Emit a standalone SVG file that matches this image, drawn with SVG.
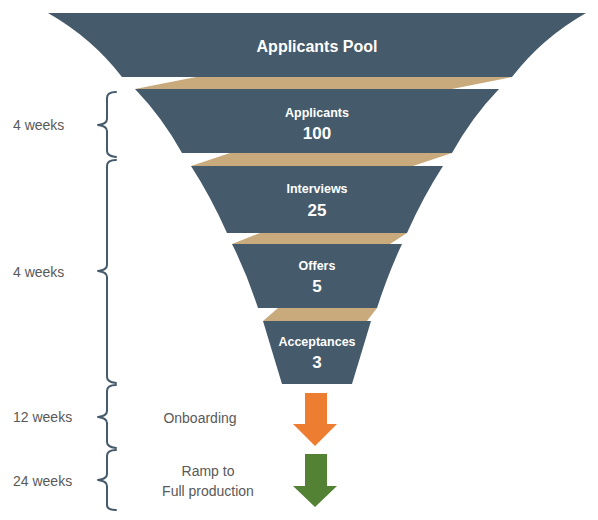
<svg xmlns="http://www.w3.org/2000/svg" width="598" height="520" viewBox="0 0 598 520">
<style>
.stage{fill:#455a6a}
.band{fill:#c9aa7c}
.t{font-family:"Liberation Sans",Arial,sans-serif;fill:#ffffff;font-weight:bold;text-anchor:middle}
.lbl{font-family:"Liberation Sans",Arial,sans-serif;fill:#595959;font-size:14px}
.mid{text-anchor:middle}
.brace{fill:none;stroke:#455a6a;stroke-width:2;stroke-linecap:round;stroke-linejoin:round}
</style>
<rect width="598" height="520" fill="#ffffff"/>
<g id="bands">
<polygon class="band" points="196,77 512,77 452,89 135,89"/>
<polygon class="band" points="230,153 452,153 413,166 191,166"/>
<polygon class="band" points="260,233 407,233 390,244 232,244"/>
<polygon class="band" points="278,308 377,308 367,321 263,321"/>
</g>
<g id="pool">
<path class="stage" d="M48,13 L586,13 Q542,38 512,77 L122,77 Q92,38 48,13 Z"/>
<text class="t" x="317" y="52" font-size="16">Applicants Pool</text>
</g>
<g id="applicants">
<path class="stage" d="M135,89 L499,89 Q472,117 452,153 L182,153 Q162,117 135,89 Z"/>
<text class="t" x="317" y="117" font-size="12.5">Applicants</text>
<text class="t" x="317" y="139" font-size="17">100</text>
</g>
<g id="interviews">
<path class="stage" d="M191,166 L443,166 Q423,197 407,233 L227,233 Q211,197 191,166 Z"/>
<text class="t" x="317" y="193" font-size="12.5">Interviews</text>
<text class="t" x="317" y="216" font-size="17">25</text>
</g>
<g id="offers">
<path class="stage" d="M232,244 L402,244 Q388,274 377,308 L258,308 Q247,274 232,244 Z"/>
<text class="t" x="317" y="270" font-size="12.5">Offers</text>
<text class="t" x="317" y="292" font-size="17">5</text>
</g>
<g id="acceptances">
<path class="stage" d="M263,321 L371,321 Q362,351 352,384 L282,384 Q272,351 263,321 Z"/>
<text class="t" x="317" y="346" font-size="12.5">Acceptances</text>
<text class="t" x="317" y="368" font-size="17">3</text>
</g>
<g id="onboarding">
<polygon fill="#ed7d31" points="305,393 327,393 327,424 337,424 315,446 293,424 305,424"/>
<text class="lbl mid" x="200" y="423">Onboarding</text>
</g>
<g id="ramp">
<polygon fill="#548235" points="305,454 327,454 327,486 337,486 315,507 293,486 305,486"/>
<text class="lbl mid" x="208" y="476">Ramp to</text>
<text class="lbl mid" x="208" y="496">Full production</text>
</g>
<g id="timeline">
<path class="brace" d="M116,92 Q107,92 107,98 L107,119 Q107,124 98,125 Q107,126 107,131 L107,151 Q107,156 116,157"/>
<path class="brace" d="M116,160 Q107,160 107,166 L107,265 Q107,270 98,271 Q107,272 107,277 L107,377 Q107,382 116,383"/>
<path class="brace" d="M116,385 Q107,385 107,391 L107,411 Q107,416 98,417 Q107,418 107,423 L107,442 Q107,447 116,448"/>
<path class="brace" d="M116,450 Q107,450 107,456 L107,474 Q107,479 98,480 Q107,481 107,486 L107,505 Q107,510 116,510"/>
<text class="lbl" x="13" y="130">4 weeks</text>
<text class="lbl" x="13" y="277">4 weeks</text>
<text class="lbl" x="13" y="422">12 weeks</text>
<text class="lbl" x="13" y="486">24 weeks</text>
</g>
</svg>
